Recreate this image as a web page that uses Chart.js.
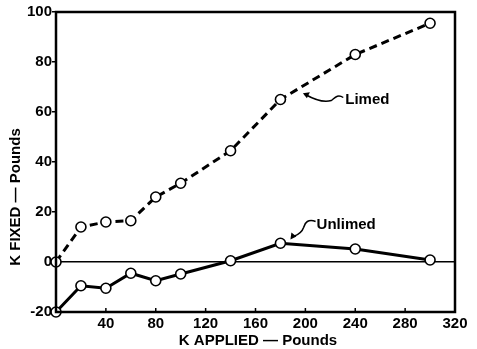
<!DOCTYPE html>
<html lang="en">
<head>
    <meta charset="UTF-8">
    <title>K fixed vs K applied</title>
    <style>
        body { margin: 0; background: #fff; }
    </style>
</head>
<body>
    <canvas id="kChart" width="477" height="349"></canvas>

    <script src="https://cdn.jsdelivr.net/npm/chart.js"></script>
    <script>
        // data
        var kApplied = [0, 20, 40, 60, 80, 100, 140, 180, 240, 300];
        var limed    = [0, 14, 16, 16.5, 26, 31.5, 44.5, 65, 83, 95.5];
        var unlimed  = [-20, -9.5, -10.5, -4.5, -7.5, -4.8, 0.5, 7.5, 5.2, 0.8];
        var xTicks = [40, 80, 120, 160, 200, 240, 280, 320];
        var yTicks = [-20, 0, 20, 40, 60, 80, 100];

        var FONT = '"Liberation Sans", Arial, sans-serif';

        function pairs(xs, ys) {
            return xs.map(function (x, i) { return { x: x, y: ys[i] }; });
        }

        // frame, inner ticks, titles and labels
        var decor = {
            id: 'decor',
            afterDraw: function (chart) {
                var c = chart.ctx, a = chart.chartArea;
                var xs = chart.scales.x, ys = chart.scales.y;
                c.save();
                c.strokeStyle = '#000';
                c.lineWidth = 2.5;
                c.strokeRect(a.left, a.top, a.right - a.left, a.bottom - a.top);

                // x ticks point into the plot
                c.lineWidth = 1.5;
                xTicks.forEach(function (v) {
                    var px = xs.getPixelForValue(v);
                    c.beginPath();
                    c.moveTo(px, a.bottom);
                    c.lineTo(px, a.bottom - 4);
                    c.stroke();
                });

                c.fillStyle = '#000';
                c.font = 'bold 15px ' + FONT;
                c.textAlign = 'center';
                c.textBaseline = 'middle';
                c.fillText('K APPLIED \u2014 Pounds', 258, 341);

                c.save();
                c.translate(16, 197);
                c.rotate(-Math.PI / 2);
                c.fillText('K FIXED \u2014 Pounds', 0, 0);
                c.restore();

                // Limed label + curly arrow
                c.textAlign = 'left';
                var lx = xs.getPixelForValue(232), ly = ys.getPixelForValue(65);
                c.fillText('Limed', lx, ly);
                var tx = xs.getPixelForValue(198), ty = ys.getPixelForValue(67.5);
                c.lineWidth = 1.5;
                c.beginPath();
                c.moveTo(lx - 2, ly - 2);
                c.bezierCurveTo(lx - 8, ly - 6, lx - 11, ly - 1, lx - 14, ly + 1);
                c.quadraticCurveTo(lx - 24, ly + 4, tx + 2, ty + 1);
                c.stroke();
                c.beginPath();
                c.moveTo(tx, ty);
                c.lineTo(tx + 7, ty - 1);
                c.lineTo(tx + 4, ty + 5);
                c.closePath();
                c.fill();

                // Unlimed label + curly arrow
                var ux = xs.getPixelForValue(209), uy = ys.getPixelForValue(15);
                c.fillText('Unlimed', ux, uy);
                var ax = xs.getPixelForValue(188), ay = ys.getPixelForValue(9);
                c.beginPath();
                c.moveTo(ux - 1, uy - 3);
                c.bezierCurveTo(ux - 8, uy - 6, ux - 12, uy - 2, ux - 13, uy + 3);
                c.quadraticCurveTo(ux - 15, uy + 9, ax + 3, ay - 3);
                c.stroke();
                c.beginPath();
                c.moveTo(ax, ay);
                c.lineTo(ax + 1, ay - 7);
                c.lineTo(ax + 6, ay - 3);
                c.closePath();
                c.fill();
                c.restore();
            }
        };

        var ctx = document.getElementById('kChart').getContext('2d');
        var kChart = new Chart(ctx, {
            type: 'scatter',
            data: {
                datasets: [{
                    label: 'Limed',
                    data: pairs(kApplied, limed),
                    showLine: true,
                    borderColor: '#000',
                    borderWidth: 3,
                    borderDash: [8, 5],
                    pointRadius: 5,
                    pointBorderWidth: 1.6,
                    pointBackgroundColor: '#fff',
                    pointBorderColor: '#000',
                    clip: false
                }, {
                    label: 'Unlimed',
                    data: pairs(kApplied, unlimed),
                    showLine: true,
                    borderColor: '#000',
                    borderWidth: 3,
                    pointRadius: 5,
                    pointBorderWidth: 1.6,
                    pointBackgroundColor: '#fff',
                    pointBorderColor: '#000',
                    clip: false
                }]
            },
            options: {
                responsive: false,
                animation: false,
                layout: { padding: { top: 12, right: 22, left: 0, bottom: 0 } },
                plugins: {
                    legend: { display: false },
                    tooltip: { enabled: false }
                },
                scales: {
                    x: {
                        type: 'linear',
                        min: 0,
                        max: 320,
                        afterFit: function (s) { s.height = 37; },
                        afterBuildTicks: function (s) {
                            s.ticks = xTicks.map(function (v) { return { value: v }; });
                        },
                        ticks: {
                            color: '#000',
                            padding: 3,
                            maxRotation: 0,
                            font: { family: FONT, size: 15, weight: 'bold' }
                        },
                        grid: { display: false, drawTicks: false },
                        border: { display: false }
                    },
                    y: {
                        min: -20,
                        max: 100,
                        afterFit: function (s) { s.width = 56; },
                        afterBuildTicks: function (s) {
                            s.ticks = yTicks.map(function (v) { return { value: v }; });
                        },
                        ticks: {
                            color: '#000',
                            padding: 0,
                            font: { family: FONT, size: 15, weight: 'bold' }
                        },
                        grid: {
                            color: function (c) { return c.tick && c.tick.value === 0 ? '#000' : 'rgba(0,0,0,0)'; },
                            lineWidth: 1.5,
                            tickColor: '#000',
                            tickLength: 4
                        },
                        border: { display: false }
                    }
                }
            },
            plugins: [decor]
        });
    </script>
</body>
</html>
